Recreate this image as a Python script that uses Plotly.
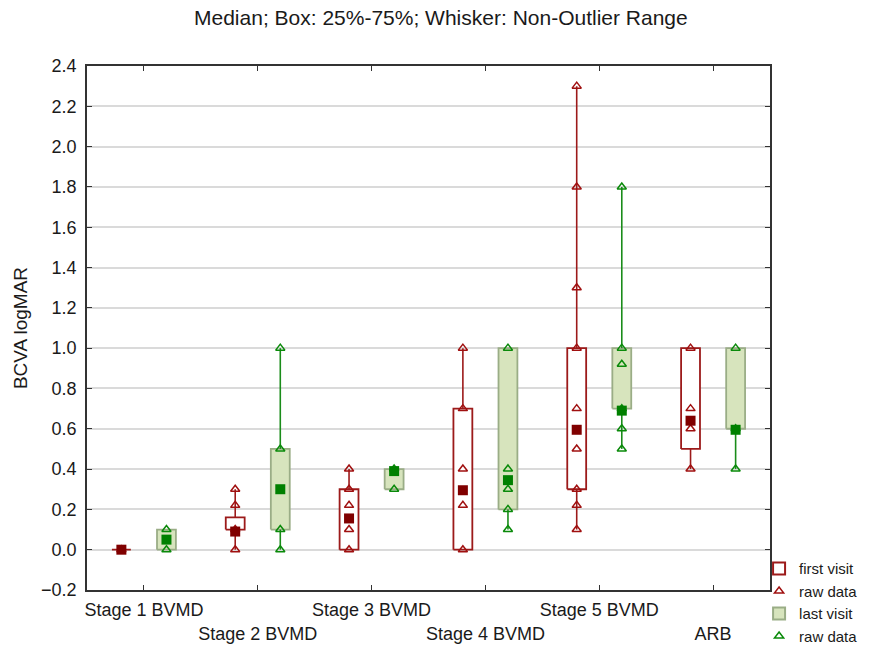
import plotly.graph_objects as go

groups = ["Stage 1 BVMD", "Stage 2 BVMD", "Stage 3 BVMD", "Stage 4 BVMD", "Stage 5 BVMD", "ARB"]

# first visit statistics
first_q1 = [0.0, 0.10, 0.0, 0.0, 0.30, 0.50]
first_med = [0.0, 0.09, 0.155, 0.295, 0.595, 0.64]
first_q3 = [0.0, 0.16, 0.30, 0.70, 1.00, 1.00]
first_lo = [0.0, 0.0, 0.0, 0.0, 0.10, 0.40]
first_hi = [0.0, 0.30, 0.40, 1.00, 2.30, 1.00]
first_raw = [
    [0.0],
    [0.0, 0.10, 0.22, 0.30],
    [0.0, 0.10, 0.22, 0.30, 0.40],
    [0.0, 0.22, 0.40, 0.70, 1.00],
    [0.10, 0.22, 0.30, 0.50, 0.70, 1.00, 1.30, 1.80, 2.30],
    [0.40, 0.60, 0.70, 1.00],
]

# last visit statistics
last_q1 = [0.0, 0.10, 0.30, 0.20, 0.70, 0.60]
last_med = [0.05, 0.30, 0.39, 0.345, 0.69, 0.595]
last_q3 = [0.10, 0.50, 0.40, 1.00, 1.00, 1.00]
last_lo = [0.0, 0.0, 0.30, 0.10, 0.50, 0.40]
last_hi = [0.10, 1.00, 0.40, 1.00, 1.80, 1.00]
last_raw = [
    [0.0, 0.10],
    [0.0, 0.10, 0.50, 1.00],
    [0.30, 0.40],
    [0.10, 0.20, 0.30, 0.40, 1.00],
    [0.50, 0.60, 0.70, 0.92, 1.00, 1.80],
    [0.40, 0.60, 1.00],
]

FONT = "Liberation Sans, Arial, sans-serif"
RED_LINE = "#9c1a1a"
RED_MED = "#800000"
RED_TRI = "#a01010"
GRN_FILL = "#d7e4bd"
GRN_OUT = "#9aad86"
GRN_LINE = "#1a8c1a"
GRN_MED = "#008000"
GRN_TRI = "#0a8a0a"

OFF = 0.198
HW = 0.083

fig = go.Figure()


def add_series(shift, q1, med, q3, lo, hi, raw, fill, outline, wcolor, tcolor, mcolor):
    centers = [i + 1 + shift for i in range(len(groups))]
    rx, ry = [], []
    for c, a, b in zip(centers, q1, q3):
        rx += [c - HW, c + HW, c + HW, c - HW, c - HW, None]
        ry += [a, a, b, b, a, None]
    fig.add_trace(go.Scatter(x=rx, y=ry, mode="lines", fill="toself", fillcolor=fill,
                             line=dict(color=outline, width=1.8), showlegend=False,
                             hoverinfo="skip"))
    wx, wy = [], []
    for c, a, l, b, h in zip(centers, q1, lo, q3, hi):
        if l < a:
            wx += [c, c, None]
            wy += [l, a, None]
        if h > b:
            wx += [c, c, None]
            wy += [b, h, None]
    fig.add_trace(go.Scatter(x=wx, y=wy, mode="lines", line=dict(color=wcolor, width=1.6),
                             showlegend=False, hoverinfo="skip"))
    tx, ty = [], []
    for c, vals in zip(centers, raw):
        tx += [c] * len(vals)
        ty += vals
    fig.add_trace(go.Scatter(x=tx, y=ty, mode="markers",
                             marker=dict(symbol="triangle-up-open", size=8, color=tcolor,
                                         line=dict(width=1.5, color=tcolor)),
                             showlegend=False))
    fig.add_trace(go.Scatter(x=centers, y=med, mode="markers",
                             marker=dict(symbol="square", size=10, color=mcolor, line=dict(width=0)),
                             showlegend=False))


add_series(-OFF, first_q1, first_med, first_q3, first_lo, first_hi, first_raw,
           "white", RED_LINE, RED_LINE, RED_TRI, RED_MED)
add_series(OFF, last_q1, last_med, last_q3, last_lo, last_hi, last_raw,
           GRN_FILL, GRN_OUT, GRN_LINE, GRN_TRI, GRN_MED)

# legend entries
fig.add_trace(go.Bar(x=[None], y=[None], name="first visit",
                     marker=dict(color="white", line=dict(color=RED_LINE, width=2))))
fig.add_trace(go.Scatter(x=[None], y=[None], mode="markers", name="raw data",
                         marker=dict(symbol="triangle-up-open", size=8, color=RED_TRI,
                                     line=dict(width=1.5, color=RED_TRI))))
fig.add_trace(go.Bar(x=[None], y=[None], name="last visit",
                     marker=dict(color=GRN_FILL, line=dict(color=GRN_OUT, width=2))))
fig.add_trace(go.Scatter(x=[None], y=[None], mode="markers", name="raw data",
                         marker=dict(symbol="triangle-up-open", size=8, color=GRN_TRI,
                                     line=dict(width=1.5, color=GRN_TRI))))

ticktext = [g if i % 2 == 0 else " <br>" + g for i, g in enumerate(groups)]

fig.update_layout(
    width=873, height=648,
    margin=dict(l=87, r=103, t=66, b=58, autoexpand=False),
    paper_bgcolor="white", plot_bgcolor="white",
    font=dict(family=FONT, size=18, color="#1a1a1a"),
    title=dict(text="Median; Box: 25%-75%; Whisker: Non-Outlier Range",
               x=0.505, xanchor="center", y=0.972, yanchor="middle",
               font=dict(size=21, color="#1a1a1a")),
    showlegend=True,
    legend=dict(x=0.984, xanchor="left", y=0.072, yanchor="top",
                bgcolor="rgba(0,0,0,0)", font=dict(size=15), itemwidth=30,
                traceorder="normal", tracegroupgap=0),
    xaxis=dict(range=[0.5, 6.5], tickmode="array", tickvals=[1, 2, 3, 4, 5, 6],
               ticktext=ticktext, tickangle=0, automargin=False,
               showgrid=False, zeroline=False, ticklabelstandoff=3,
               showline=True, linecolor="#333333", linewidth=1.5, mirror="ticks",
               ticks="inside", ticklen=5, tickcolor="#333333", tickwidth=1.2),
    yaxis=dict(range=[-0.2, 2.4], dtick=0.2, tick0=0, tickformat=".1f", automargin=False,
               showgrid=True, gridcolor="#dadada", gridwidth=1.5, zeroline=False,
               showline=True, linecolor="#333333", linewidth=1.5, mirror="ticks",
               ticks="inside", ticklen=5, tickcolor="#333333", tickwidth=1.2,
               ticklabelstandoff=5,
               title=dict(text="BCVA logMAR", font=dict(size=19), standoff=8)),
)

fig.write_html("out.html")
